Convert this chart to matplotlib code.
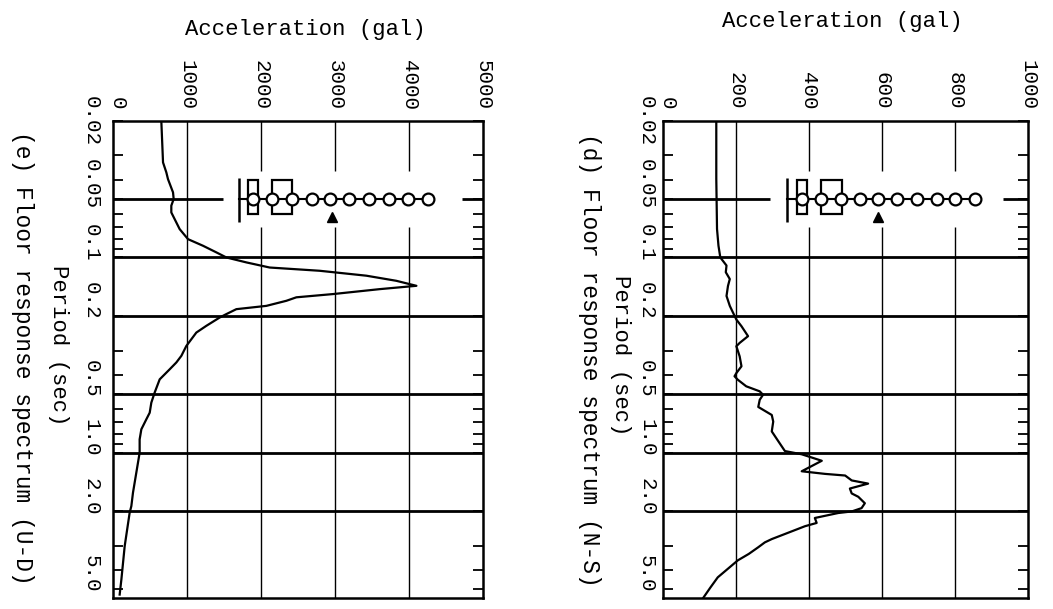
import numpy as np
import matplotlib
matplotlib.use("Agg")
import matplotlib.pyplot as plt
from matplotlib.patches import Rectangle
from matplotlib.ticker import FixedLocator, NullFormatter
from matplotlib.transforms import ScaledTranslation

plt.rcParams['font.family'] = ['Liberation Mono', 'DejaVu Sans Mono']

# (d) N-S floor response spectrum
d_period = [0.02, 0.0395, 0.0715, 0.0871, 0.1, 0.110, 0.119, 0.129, 0.140, 0.1575,
            0.177, 0.192, 0.208, 0.225, 0.253, 0.274, 0.285, 0.321, 0.361, 0.391,
            0.406, 0.423, 0.457, 0.485, 0.505, 0.536, 0.583, 0.641, 0.693, 0.778,
            0.874, 0.981, 1.019, 1.10, 1.245, 1.284, 1.309, 1.387, 1.44, 1.526,
            1.617, 1.682, 1.815, 1.923, 2.0, 2.037, 2.16, 2.29, 2.38, 2.57,
            2.77, 2.88, 3.05, 3.3, 3.56, 3.9, 4.35, 4.9, 5.55]
d_accel = [146, 146, 148, 152, 157, 174, 172, 183, 178, 174,
           183, 192, 201, 215, 233, 210, 201, 210, 215, 201,
           196, 205, 228, 265, 274, 265, 261, 298, 302, 298,
           316, 334, 380, 435, 380, 444, 499, 517, 562, 512,
           517, 535, 553, 544, 517, 480, 416, 421, 389, 343,
           298, 279, 261, 235, 205, 180, 150, 130, 110]

# (e) U-D floor response spectrum
e_period = [0.02, 0.0326, 0.0367, 0.0397, 0.0464, 0.0502, 0.0543, 0.0588, 0.0636, 0.0716,
            0.0806, 0.0871, 0.0942, 0.1, 0.106, 0.1126, 0.117, 0.124, 0.1317, 0.1397,
            0.1453, 0.154, 0.160, 0.1667, 0.177, 0.184, 0.195, 0.203, 0.224, 0.2425,
            0.284, 0.319, 0.345, 0.374, 0.421, 0.492, 0.554, 0.624, 0.675, 0.759,
            0.855, 1.0, 1.266, 1.603, 1.877, 2.03, 3.01, 4.47, 5.33]
e_accel = [653, 676, 721, 743, 811, 820, 788, 788, 833, 901,
           1014, 1216, 1397, 1532, 1802, 2117, 2793, 3424, 3829, 4100,
           3604, 2973, 2478, 2343, 2072, 1667, 1532, 1442, 1261, 1126,
           991, 924, 856, 766, 631, 563, 518, 496, 450, 383,
           360, 360, 315, 270, 248, 225, 158, 113, 90]

# peak acceleration statistics drawn at T = 0.05
d_whisker = 340
d_box1 = [367, 395]
d_box2 = [433, 490]
d_circles = [380, 432, 488, 540, 590, 642, 695, 750, 800, 855]
d_arrow = 590

e_whisker = 1707
e_box1 = [1829, 1963]
e_box2 = [2144, 2423]
e_circles = [1888, 2153, 2415, 2686, 2932, 3189, 3464, 3734, 3991, 4261]
e_arrow = 2955

period_major = [0.02, 0.05, 0.1, 0.2, 0.5, 1.0, 2.0, 5.0]
period_labels = ['0.02', '0.05', '0.1', '0.2', '0.5', '1.0', '2.0', '5.0']
period_minor = [0.03, 0.04, 0.06, 0.07, 0.08, 0.09, 0.3, 0.4, 0.6, 0.7, 0.8, 0.9, 3.0, 4.0]
period_grid = [0.1, 0.2, 0.5, 1.0, 2.0]

T_TOP, T_BOT = 0.02, 5.55
T_MARK = 0.05


def draw_panel(rect, period, accel, xmax, xstep, whisker, box1, box2, circles, arrow_x,
               line_end, line_right, ylab_pad):
    ax = fig.add_axes(rect)
    ax.set_yscale('log')
    ax.set_xlim(0, xmax)
    ax.set_ylim(T_BOT, T_TOP)

    ax.plot(accel, period, color='black', lw=1.6, zorder=4)

    # acceleration ticks on top, rotated
    xt = np.arange(0, xmax + 1, xstep)
    ax.xaxis.tick_top()
    ax.set_xticks(xt)
    ax.set_xticklabels([str(int(v)) for v in xt], rotation=-90, fontsize=15)
    ax.tick_params(axis='x', length=0, pad=8)
    # the "0" sits just right of the corner in the original
    lbl0 = ax.get_xticklabels()[0]
    lbl0.set_transform(lbl0.get_transform() + ScaledTranslation(0.04, 0, fig.dpi_scale_trans))

    ax.set_yticks(period_major)
    ax.set_yticklabels(period_labels, rotation=-90, fontsize=15, va='center')
    ax.yaxis.set_minor_locator(FixedLocator(period_minor))
    ax.yaxis.set_minor_formatter(NullFormatter())
    ax.tick_params(axis='y', which='both', direction='in', left=True, right=True,
                   length=7, width=1.3, pad=ylab_pad)
    # typed labels run a little ahead of their ticks
    for lbl in ax.get_yticklabels()[1:]:
        lbl.set_transform(lbl.get_transform() + ScaledTranslation(0, 0.15, fig.dpi_scale_trans))

    # thin acceleration grid, broken around the statistic row
    for g in xt[1:-1]:
        if g > whisker:
            ax.vlines([g, g], [T_TOP, 0.070], [0.036, T_BOT], color='black', lw=1.0)
        else:
            ax.vlines(g, T_TOP, T_BOT, color='black', lw=1.0)

    # thick period grid
    for p in period_grid:
        ax.axhline(p, color='black', lw=2.0)
    ax.hlines(T_MARK, 0, line_end, color='black', lw=2.0)
    ax.hlines(T_MARK, line_right, xmax, color='black', lw=2.0)

    # statistics row
    ax.vlines(whisker, 0.039, 0.066, color='black', lw=1.8, zorder=5)
    ax.plot([whisker, circles[-1]], [T_MARK, T_MARK], color='black', lw=1.5, zorder=5)
    for b in (box1, box2):
        ax.add_patch(Rectangle((b[0], 0.040), b[1] - b[0], 0.020, fill=False,
                               edgecolor='black', lw=1.6, zorder=5))
    ax.plot(circles, [T_MARK] * len(circles), 'o', mfc='white', mec='black',
            ms=8.5, mew=1.6, zorder=6)
    ax.plot([arrow_x], [0.062], '^', color='black', ms=7, zorder=6)

    for s in ax.spines.values():
        s.set_linewidth(1.8)
    return ax


fig = plt.figure(figsize=(10.53, 6.09), dpi=100)

draw_panel([113 / 1053, 11 / 609, 370 / 1053, 477 / 609], e_period, e_accel, 5000, 1000,
           e_whisker, e_box1, e_box2, e_circles, e_arrow, 1486, 4712, 9)
draw_panel([663 / 1053, 11 / 609, 365 / 1053, 477 / 609], d_period, d_accel, 1000, 200,
           d_whisker, d_box1, d_box2, d_circles, d_arrow, 292, 931, 5)

fig.text(305 / 1053, 1 - 30 / 609, 'Acceleration (gal)', ha='center', va='center', fontsize=16)
fig.text(842 / 1053, 1 - 22 / 609, 'Acceleration (gal)', ha='center', va='center', fontsize=16)

fig.text(58 / 1053, 1 - 345 / 609, 'Period (sec)', rotation=-90, ha='center', va='center', fontsize=16)
fig.text(621 / 1053, 1 - 355 / 609, 'Period (sec)', rotation=-90, ha='center', va='center', fontsize=16)

fig.text(22 / 1053, 1 - 358 / 609, '(e) Floor response spectrum (U-D)', rotation=-90,
         ha='center', va='center', fontsize=16.5)
fig.text(590 / 1053, 1 - 360 / 609, '(d) Floor response spectrum (N-S)', rotation=-90,
         ha='center', va='center', fontsize=16.5)

fig.savefig('out.png', dpi=100, facecolor='white')
